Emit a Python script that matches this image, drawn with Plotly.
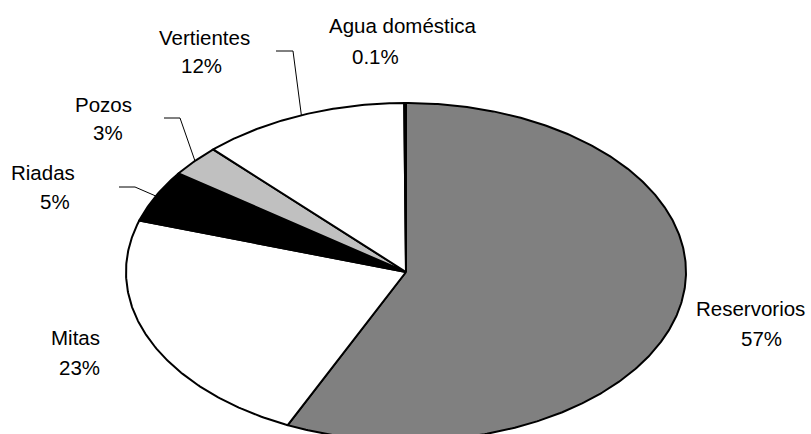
import numpy as np
import plotly.graph_objects as go

# Water sources and their shares (percent), clockwise from 12 o'clock
categories = ["Reservorios", "Mitas", "Riadas", "Pozos", "Vertientes", "Agua doméstica"]
shares = [57, 23, 5, 3, 12, 0.1]
fill_colors = ["#808080", "#ffffff", "#000000", "#c0c0c0", "#ffffff", "#000000"]

# Ellipse geometry in pixel space (y grows downward)
CX, CY, RX, RY = 406, 272, 280, 169

# Label placement: name centre, percent centre
label_pos = {
    "Reservorios": ((750, 308), (761, 338)),
    "Mitas": ((75, 337), (79, 367)),
    "Riadas": ((43, 172), (55, 201)),
    "Pozos": ((103, 104), (108, 132)),
    "Vertientes": ((204, 37), (201, 65)),
    "Agua doméstica": ((403, 25), (375, 56)),
}
# Leader lines: start point and elbow, then run to the slice's mid-arc
leader_pts = {
    "Vertientes": [(276, 51), (293, 51)],
    "Pozos": [(164, 118), (180, 118)],
    "Riadas": [(119, 187), (135, 187)],
}

FONT = dict(family="Liberation Sans, Arial, sans-serif", size=20.5, color="black")


def on_ellipse(theta):
    return CX + RX * np.sin(theta), CY - RY * np.cos(theta)


total = float(sum(shares))
edges = np.concatenate([[0.0], np.cumsum(shares)]) / total * 2 * np.pi

fig = go.Figure()

for i, (name, val, col) in enumerate(zip(categories, shares, fill_colors)):
    n = max(3, int(np.degrees(edges[i + 1] - edges[i])) * 2)
    t = np.linspace(edges[i], edges[i + 1], n)
    ax, ay = on_ellipse(t)
    xs = np.concatenate([[CX], ax, [CX]])
    ys = np.concatenate([[CY], ay, [CY]])
    fig.add_trace(go.Scatter(
        x=xs, y=ys, mode="lines", fill="toself", fillcolor=col,
        line=dict(color="black", width=2), name=name,
        hoverinfo="text", text=f"{name}: {val:g}%",
    ))

# Leader lines for the narrow upper-left slices
for name, pts in leader_pts.items():
    i = categories.index(name)
    mid = 0.5 * (edges[i] + edges[i + 1])
    ex, ey = on_ellipse(mid)
    lx = [p[0] for p in pts] + [float(ex)]
    ly = [p[1] for p in pts] + [float(ey)]
    fig.add_trace(go.Scatter(
        x=lx, y=ly, mode="lines", line=dict(color="black", width=1),
        hoverinfo="skip",
    ))

annotations = []
for name, val in zip(categories, shares):
    (nx, ny), (px, py) = label_pos[name]
    annotations.append(dict(x=nx, y=ny, text=name, showarrow=False,
                            xanchor="center", yanchor="middle", font=FONT))
    annotations.append(dict(x=px, y=py, text=f"{val:g}%", showarrow=False,
                            xanchor="center", yanchor="middle", font=FONT))

fig.update_layout(
    width=811, height=434,
    margin=dict(l=0, r=0, t=0, b=0),
    paper_bgcolor="white", plot_bgcolor="white",
    showlegend=False,
    xaxis=dict(range=[0, 811], visible=False, fixedrange=True),
    yaxis=dict(range=[434, 0], visible=False, fixedrange=True),
    annotations=annotations,
)

fig.write_html("out.html", config={"displayModeBar": False})
